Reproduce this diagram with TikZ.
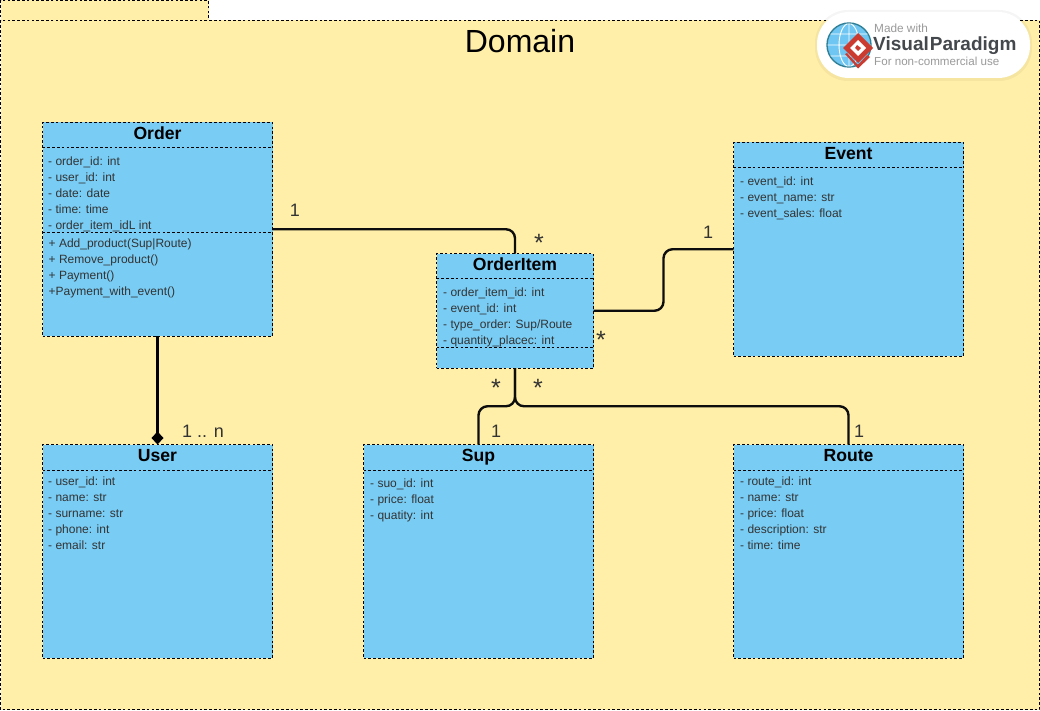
\documentclass[tikz,border=0pt]{standalone}
\usepackage{fontspec}
\setmainfont{Liberation Sans}
\usetikzlibrary{arrows.meta,calc}
\definecolor{pkg}{HTML}{FFEFA8}
\definecolor{cls}{HTML}{79CDF5}
\definecolor{lbl}{HTML}{333333}
\definecolor{vpred}{HTML}{CC3B30}
\definecolor{vpblue}{HTML}{6FC6F2}
\definecolor{vpteal}{HTML}{2F7F96}
\definecolor{vpgrey}{HTML}{9A9A9A}
\definecolor{vpdark}{HTML}{44484C}
\tikzset{
  x=1pt,y=-1pt,
  dashline/.style={draw=black,line width=0.8pt,dash pattern=on 2.6pt off 2.2pt},
  pkgbox/.style={dashline,fill=pkg},
  classbox/.style={dashline,fill=cls,rectangle,anchor=north west,inner sep=0pt,outer sep=0pt,minimum width=#1},
  classname/.style={font=\fontsize{17.6}{17}\selectfont\bfseries,text=black,anchor=base,inner sep=0pt},
  members/.style={font=\fontsize{12}{16}\selectfont,text=lbl,anchor=north west,inner sep=0pt,align=left},
  assoc/.style={draw=black!95,line width=2.4pt,rounded corners=9pt},
  mult/.style={font=\fontsize{18}{18}\selectfont,text=lbl,inner sep=0pt,anchor=center},
  starmult/.style={font=\fontsize{25}{25}\selectfont,text=lbl,inner sep=0pt,anchor=center},
  comp/.style={draw=black,line width=2.4pt,-{Diamond[length=13pt,width=12pt,fill=black]}},
}
\begin{document}
\begin{tikzpicture}
\useasboundingbox (0,0) rectangle (1040,711);
\fill[white] (0,0) rectangle (1040,711);
% package
\path[pkgbox] (0.5,0.5) rectangle (208.5,20.5);
\path[pkgbox] (0.5,20.5) rectangle (1039.5,709.5);
\node[font=\fontsize{32}{32}\selectfont,text=black,inner sep=0pt] (domain) at (520,41) {Domain};
% classes
\node[classbox=230pt,minimum height=213.5pt] (order) at (42.5,122.5) {};
\node[classbox=157pt,minimum height=114.5pt] (item) at (436.5,253.5) {};
\node[classbox=230pt,minimum height=213.5pt] (event) at (733.5,142.5) {};
\node[classbox=230pt,minimum height=213.5pt] (user) at (42.5,444.5) {};
\node[classbox=230pt,minimum height=213.5pt] (sup) at (363.5,444.5) {};
\node[classbox=230pt,minimum height=213.5pt] (route) at (733.5,444.5) {};
% compartments
\path[dashline] (42.5,147.5) -- (272.5,147.5) (42.5,232.5) -- (272.5,232.5);
\path[dashline] (436.5,278.5) -- (593.5,278.5) (436.5,347.5) -- (593.5,347.5);
\path[dashline] (733.5,167.5) -- (963.5,167.5);
\path[dashline] (42.5,470) -- (272.5,470);
\path[dashline] (363.5,470) -- (593.5,470);
\path[dashline] (733.5,470) -- (963.5,470);
% names
\node[classname] (ordername) at (157.5,140) {Order};
\node[classname] (itemname) at (515,270) {OrderItem};
\node[classname] (eventname) at (848.5,160) {Event};
\node[classname] (username) at (157.5,461) {User};
\node[classname] (supname) at (478.5,461) {Sup};
\node[classname] (routename) at (848.5,461) {Route};
% members
\node[members] (ordermem) at (48,156.5) {- order\_id: int\\- user\_id: int\\- date: date\\- time: time\\- order\_item\_idL int};
\node[members] (ordermeth) at (48.5,238.5) {+ Add\_product(Sup|Route)\\+ Remove\_product()\\+ Payment()\\+Payment\_with\_event()};
\node[members] (itemmem) at (443,287.5) {- order\_item\_id: int\\- event\_id: int\\- type\_order: Sup/Route\\- quantity\_placec: int};
\node[members] (eventmem) at (740,176.5) {- event\_id: int\\- event\_name: str\\- event\_sales: float};
\node[members] (usermem) at (48,476.5) {- user\_id: int\\- name: str\\- surname: str\\- phone: int\\- email: str};
\node[members] (supmem) at (370,478.5) {- suo\_id: int\\- price: float\\- quatity: int};
\node[members] (routemem) at (740,476.5) {- route\_id: int\\- name: str\\- price: float\\- description: str\\- time: time};
% connectors
\draw[assoc] (order.east) -| (item.north);
\draw[assoc] (item.east) -- ++(70,0) |- (event.west);
\draw[comp] (order.south) -- (user.north);
\draw[assoc] (item.south) |- ($(item.south)!0.5!(sup.north)+(0,0)$) -| (sup.north);
\draw[assoc] (item.south) |- ($(item.south)!0.5!(route.north)+(0,0)$) -| (route.north);
% multiplicities
\node[mult] (m1) at (295,210) {1};
\node[starmult] (m2) at (539,243) {*};
\node[mult] (m3) at (708,232) {1};
\node[starmult] (m4) at (601,340) {*};
\node[starmult] (m5) at (496,388) {*};
\node[starmult] (m6) at (538,388) {*};
\node[mult] (m7) at (496,431) {1};
\node[mult] (m8) at (859,431) {1};
\node[mult] (m9) at (203,431) {1 .. n};
% logo
\fill[black,opacity=0.04,rounded corners=33pt] (815,10) rectangle (1032,81);
\fill[white,rounded corners=32pt] (817,12) rectangle (1030,78);
\fill[vpblue] (849,45) circle (21.5);
\draw[vpteal,line width=1.4pt] (849,45) circle (22);
\begin{scope}
\clip (849,45) circle (21.5);
\draw[white,line width=0.9pt] (849,45) ellipse (10 and 21.5) (849,23) -- (849,67) (827,45) -- (871,45) (829,34) -- (869,34) (829,56) -- (869,56);
\end{scope}
\fill[vpred] (845,54) -- (858,68.5) -- (870,57) -- (867,55) -- (858,65) -- (847,53) -- cycle;
\fill[vpred] (858,33) -- (873,48) -- (858,63) -- (843,48) -- cycle;
\fill[white] (858,40) -- (866,48) -- (858,56) -- (850,48) -- cycle;
\fill[vpred] (857,45) -- (861,48) -- (858,51) -- (855,48) -- cycle;
\node[font=\fontsize{11.8}{12}\selectfont,text=vpgrey,anchor=west,inner sep=0pt] (vp1) at (874,28) {Made with};
\node[font=\fontsize{19}{19}\selectfont\bfseries,text=vpdark,anchor=west,inner sep=0pt] (vp2) at (873,46) {Visual\hspace{1pt}Paradigm};
\node[font=\fontsize{11.6}{12}\selectfont,text=vpgrey,anchor=west,inner sep=0pt] (vp3) at (874,61.5) {For non-commercial use};
\end{tikzpicture}
\end{document}
